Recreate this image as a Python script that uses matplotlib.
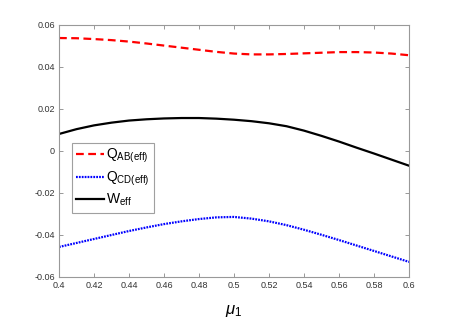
import matplotlib
matplotlib.use("Agg")
import matplotlib.pyplot as plt
import numpy as np

plt.rcParams['font.family'] = ['Liberation Sans', 'DejaVu Sans']
plt.rcParams['mathtext.fontset'] = 'custom'
plt.rcParams['mathtext.rm'] = 'Liberation Sans'
plt.rcParams['mathtext.it'] = 'Liberation Sans:italic'

mu1 = [0.40, 0.41, 0.42, 0.43, 0.44, 0.45, 0.46, 0.47, 0.48, 0.49, 0.50,
       0.51, 0.52, 0.53, 0.54, 0.55, 0.56, 0.57, 0.58, 0.59, 0.60]
q_ab = [0.0538, 0.0537, 0.0533, 0.0528, 0.0521, 0.0512, 0.0502, 0.0492, 0.0482, 0.0472, 0.0464,
        0.0460, 0.0460, 0.0462, 0.0465, 0.0468, 0.0471, 0.0471, 0.0469, 0.0464, 0.0456]
q_cd = [-0.0457, -0.0438, -0.0419, -0.0400, -0.0381, -0.0364, -0.0348, -0.0335, -0.0324, -0.0316, -0.0314,
        -0.0322, -0.0335, -0.0353, -0.0375, -0.0399, -0.0424, -0.0450, -0.0476, -0.0502, -0.0528]
w_eff = [0.0081, 0.0104, 0.0122, 0.0135, 0.0145, 0.0151, 0.0155, 0.0157, 0.0157, 0.0154, 0.0149,
         0.0142, 0.0132, 0.0118, 0.0097, 0.0072, 0.0045, 0.0016, -0.0012, -0.0041, -0.0070]

xticks = [0.40, 0.42, 0.44, 0.46, 0.48, 0.50, 0.52, 0.54, 0.56, 0.58, 0.60]
xticklabels = ["0.4", "0.42", "0.44", "0.46", "0.48", "0.5", "0.52", "0.54", "0.56", "0.58", "0.6"]
yticks = [-0.06, -0.04, -0.02, 0.0, 0.02, 0.04, 0.06]
yticklabels = ["-0.06", "-0.04", "-0.02", "0", "0.02", "0.04", "0.06"]

fig = plt.figure(figsize=(4.52, 3.22), dpi=100)
ax = fig.add_axes([59/452, 1-277/322, 350/452, 252/322])

ax.plot(mu1, q_ab, color="red", ls=(0, (3.5, 2)), lw=1.6, label=r"$\mathrm{Q}_{\mathrm{AB(eff)}}$")
ax.plot(mu1, q_cd, color="blue", ls=(0, (0.8, 0.5)), lw=1.6, label=r"$\mathrm{Q}_{\mathrm{CD(eff)}}$")
ax.plot(mu1, w_eff, color="black", ls="-", lw=1.6, label=r"$\mathrm{W}_{\mathrm{eff}}$")

ax.set_xlim(0.4, 0.6)
ax.set_ylim(-0.06, 0.06)
ax.set_xticks(xticks)
ax.set_xticklabels(xticklabels)
ax.set_yticks(yticks)
ax.set_yticklabels(yticklabels)
ax.tick_params(direction="in", top=True, right=True, length=3, width=0.6,
               color="#888888", labelsize=6.5, labelcolor="#333333", pad=3)
for s in ax.spines.values():
    s.set_color("#999999")
    s.set_linewidth(0.8)

ax.set_xlabel(r"$\mathit{\mu}_{1}$", fontsize=12, labelpad=9)

leg = ax.legend(loc="upper left", bbox_to_anchor=(0.036, 0.532), fontsize=10,
                frameon=True, fancybox=False, edgecolor="#888888", handlelength=2.0,
                borderpad=0.3, labelspacing=0.3, handletextpad=0.2, borderaxespad=0)
leg.get_frame().set_linewidth(0.8)

fig.savefig("out.png", dpi=100)
